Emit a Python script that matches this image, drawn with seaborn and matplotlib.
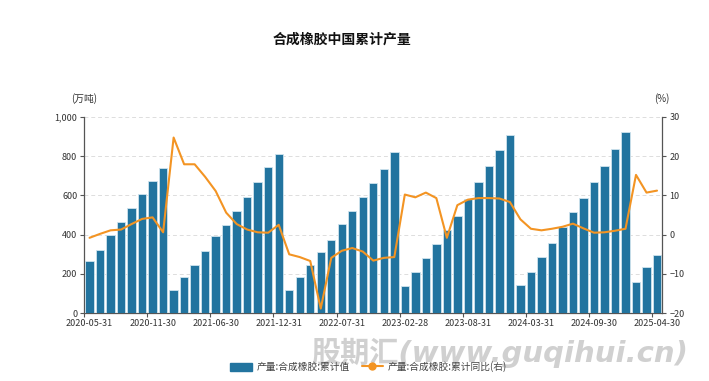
import numpy as np
import pandas as pd
import matplotlib
matplotlib.use("Agg")
import matplotlib.pyplot as plt
import seaborn as sns
from matplotlib.patches import Patch
from matplotlib.lines import Line2D
from matplotlib.ticker import FuncFormatter, FixedLocator

# data: monthly cumulative output (no January, Jan-Feb reported together)
months = ["2020-05-31", "2020-06-30", "2020-07-31", "2020-08-31", "2020-09-30", "2020-10-31",
          "2020-11-30", "2020-12-31",
          "2021-02-28", "2021-03-31", "2021-04-30", "2021-05-31", "2021-06-30", "2021-07-31",
          "2021-08-31", "2021-09-30", "2021-10-31", "2021-11-30", "2021-12-31",
          "2022-02-28", "2022-03-31", "2022-04-30", "2022-05-31", "2022-06-30", "2022-07-31",
          "2022-08-31", "2022-09-30", "2022-10-31", "2022-11-30", "2022-12-31",
          "2023-02-28", "2023-03-31", "2023-04-30", "2023-05-31", "2023-06-30", "2023-07-31",
          "2023-08-31", "2023-09-30", "2023-10-31", "2023-11-30", "2023-12-31",
          "2024-02-29", "2024-03-31", "2024-04-30", "2024-05-31", "2024-06-30", "2024-07-31",
          "2024-08-31", "2024-09-30", "2024-10-31", "2024-11-30", "2024-12-31",
          "2025-02-28", "2025-03-31", "2025-04-30"]

output = [264, 324, 400, 464, 536, 605, 674, 740,
          119, 185, 248, 318, 392, 450, 522, 590, 666, 742, 811,
          117, 185, 247, 312, 374, 453, 520, 591, 662, 733, 822,
          138, 211, 280, 351, 426, 497, 579, 666, 749, 829, 908,
          143, 212, 284, 360, 438, 514, 587, 667, 750, 835, 920,
          161, 234, 294]

yoy = [-0.8, 0.2, 1.1, 1.3, 2.7, 4.0, 4.4, 0.6,
       24.7, 17.9, 17.9, 14.7, 11.1, 5.6, 2.7, 1.3, 0.6, 0.5, 2.5,
       -5.0, -5.7, -6.7, -18.8, -5.9, -4.1, -3.4, -4.3, -6.6, -5.9, -5.7,
       10.2, 9.5, 10.7, 9.3, -0.8, 7.5, 8.9, 9.3, 9.3, 9.2, 8.3,
       3.9, 1.5, 1.1, 1.5, 2.0, 2.8, 1.6, 0.5, 0.6, 1.0, 1.5,
       15.2, 10.7, 11.2]

df = pd.DataFrame({"date": months, "output": output, "yoy": yoy})
df["pos"] = np.arange(len(df))

bar_color = "#22749f"
line_color = "#f39423"
text_color = "#333333"

sns.set_theme(style="white")
plt.rcParams["font.family"] = ["Noto Sans CJK SC", "DejaVu Sans"]

fig = plt.figure(figsize=(7.09, 3.81), dpi=100)
ax = fig.add_axes([0.1189, 0.1777, 0.8152, 0.5160])

# watermark
fig.text(0.97, 0.075, "股期汇(www.guqihui.cn)", ha="right", va="center",
         fontsize=21, fontweight="bold", style="italic", color="#d0d0d0",
         family=["DejaVu Sans", "Noto Sans CJK SC"], zorder=0)

sns.barplot(data=df, x="pos", y="output", color=bar_color, saturation=1,
            width=0.8, edgecolor="#cfe3ee", linewidth=0.6, ax=ax, zorder=3)

ax.set_ylim(0, 1000)
ax.set_xlim(-0.5, len(df) - 0.5)
ax.yaxis.set_major_locator(FixedLocator([0, 200, 400, 600, 800, 1000]))
ax.yaxis.set_major_formatter(FuncFormatter(lambda v, p: f"{int(v):,}"))
for v in [200, 400, 600, 800, 1000]:
    ax.axhline(v, color="#dddddd", lw=0.7, ls=(0, (4, 3)), zorder=1)

label_pos = list(range(0, len(df), 6))
ax.set_xticks(label_pos)
ax.set_xticklabels([df["date"][i] for i in label_pos])
ax.set_xticks([i - 0.5 for i in label_pos], minor=True)
ax.tick_params(axis="x", which="major", length=0, pad=4, labelsize=6.5, labelcolor=text_color)
ax.tick_params(axis="x", which="minor", length=3, color="#555555", width=0.8, bottom=True)
ax.tick_params(axis="y", length=3, color="#555555", width=0.8, labelsize=6.5,
               labelcolor=text_color, left=True, pad=2)
ax.set_xlabel("")
ax.set_ylabel("")

for s in ["top", "right"]:
    ax.spines[s].set_visible(False)
for s in ["left", "bottom"]:
    ax.spines[s].set_color("#555555")
    ax.spines[s].set_linewidth(0.9)

ax2 = ax.twinx()
sns.lineplot(data=df, x="pos", y="yoy", color=line_color, lw=1.5, ax=ax2, zorder=4)
ax2.set_ylim(-20, 30)
ax2.yaxis.set_major_locator(FixedLocator([-20, -10, 0, 10, 20, 30]))
ax2.tick_params(axis="y", length=3, color="#555555", width=0.8, labelsize=6.5,
                labelcolor=text_color, right=True, pad=2)
ax2.set_ylabel("")
ax2.set_xlabel("")
for s in ["top", "left", "bottom"]:
    ax2.spines[s].set_visible(False)
ax2.spines["right"].set_color("#555555")
ax2.spines["right"].set_linewidth(0.9)
ax2.grid(False)
ax.grid(False)

fig.text(0.118, 0.742, "(万吨)", ha="center", va="center", fontsize=7, color=text_color)
fig.text(0.933, 0.742, "(%)", ha="center", va="center", fontsize=7, color=text_color)

fig.text(0.482, 0.897, "合成橡胶中国累计产量", ha="center", va="center",
         fontsize=10, fontweight="bold", color="#111111")

handles = [Patch(facecolor=bar_color, edgecolor=bar_color),
           Line2D([0], [0], color=line_color, lw=1.5, marker="o", markersize=5)]
labels = ["产量:合成橡胶:累计值", "产量:合成橡胶:累计同比(右)"]
fig.legend(handles, labels, loc="center", bbox_to_anchor=(0.52, 0.037), ncol=2,
           frameon=False, fontsize=7, handlelength=2.2, handleheight=1.0,
           columnspacing=1.2, handletextpad=0.5, labelcolor="#444444")

fig.savefig("out.png", dpi=100)
